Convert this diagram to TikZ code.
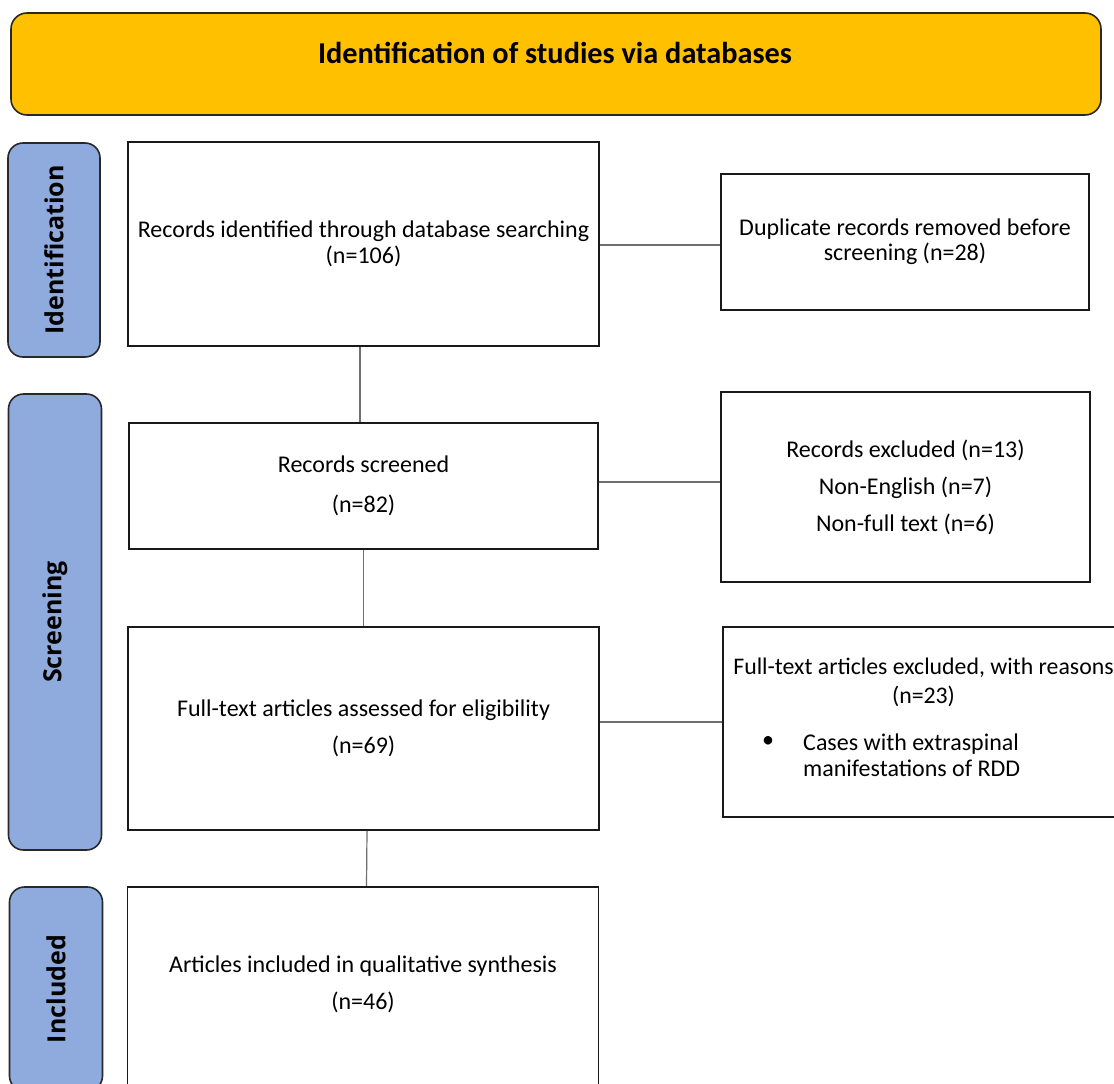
\documentclass[tikz,border=0pt]{standalone}
\usepackage{fontspec}
\setmainfont{Carlito}
\newfontfamily\tabfont{Open Sans}
\definecolor{bannergold}{RGB}{255,192,0}
\definecolor{tabblue}{RGB}{143,170,220}
\definecolor{edgedark}{RGB}{40,40,40}
\definecolor{conngray}{RGB}{110,110,110}
\tikzset{
  banner/.style={draw=edgedark, line width=1.6pt, fill=bannergold, rounded corners=16pt, inner sep=0pt},
  tabbox/.style={draw=edgedark, line width=1.6pt, fill=tabblue, rounded corners=15pt, inner sep=0pt, rotate=90,
    font=\tabfont\bfseries\fontsize{25}{28}\selectfont},
  stagebox/.style={draw=black!90, line width=1.8pt, fill=white, rectangle, inner sep=0pt, align=center},
  bodytext/.style={font=\fontsize{24}{26}\selectfont},
  plain/.style={inner sep=0pt, align=center, font=\fontsize{24}{26}\selectfont},
  conn/.style={draw=conngray, line width=1.2pt}
}
\begin{document}
\begin{tikzpicture}[x=1pt,y=-1pt]
\clip (0,0) rectangle (1114,1084);
\fill[white] (0,0) rectangle (1114,1084);

% banner
\node[banner, minimum width=1090pt, minimum height=102pt] (banner) at (556,64) {};
\node[inner sep=0pt, anchor=base, font=\bfseries\fontsize{30.3}{32}\selectfont] (title) at (555,63) {Identification of studies via databases};

% side tabs
\node[tabbox, minimum width=214pt, minimum height=92pt] (tabI) at (54,250) {Identification};
\node[tabbox, minimum width=456pt, minimum height=93pt] (tabS) at (55,622) {Screening};
\node[tabbox, minimum width=204pt, minimum height=93pt] (tabN) at (56,989) {Included};

% main column
\node[stagebox, bodytext, minimum width=471pt, minimum height=204pt] (b1) at (363.5,244)
  {Records identified through database searching\\(n=106)};
\node[stagebox, minimum width=469pt, minimum height=126pt, font=\fontsize{24}{40}\selectfont] (b2) at (363.5,486)
  {Records screened\\(n=82)};
\node[stagebox, minimum width=471pt, minimum height=203pt, font=\fontsize{24}{37}\selectfont] (b3) at (363.5,728.5)
  {Full-text articles assessed for eligibility\\(n=69)};
\node[stagebox, minimum width=471pt, minimum height=205pt] (b4) at (363,989.5) {};
\node[plain, font=\fontsize{24}{37}\selectfont] (b4t) at (363,984.5)
  {Articles included in qualitative synthesis\\(n=46)};

% side column
\node[stagebox, font=\fontsize{24}{25}\selectfont, minimum width=368pt, minimum height=136pt] (dup) at (905,242)
  {Duplicate records removed before\\screening (n=28)};
\node[stagebox, font=\fontsize{24}{37}\selectfont, minimum width=369pt, minimum height=190pt] (rex) at (905.5,487)
  {Records excluded (n=13)\\Non-English (n=7)\\Non-full text (n=6)};
\node[stagebox, minimum width=407pt, minimum height=190pt] (fex) at (926.5,722) {};
\node[plain, font=\fontsize{23.8}{29}\selectfont] (fexhead) at (923.5,682.5)
  {Full-text articles excluded, with reasons\\(n=23)};
\node[plain] (fexbul) at (768,742) {•};
\node[plain, anchor=west, align=left] (fexitem) at (803,755)
  {Cases with extraspinal\\manifestations of RDD};

% connectors
\draw[conn] ([xshift=-3.5pt]b1.south) -- ([xshift=-3.5pt]b2.north);
\draw[conn] (b2.south) -- (b3.north);
\draw[conn] ([xshift=3.5pt]b3.south) -- ([xshift=3.5pt]b4.north);
\draw[conn] ([yshift=-1pt]b1.east) -- ([yshift=-1pt]b1.east -| dup.west);
\draw[conn] ([yshift=4pt]b2.east) -- ([yshift=4pt]b2.east -| rex.west);
\draw[conn] ([yshift=6.5pt]b3.east) -- ([yshift=6.5pt]b3.east -| fex.west);
\end{tikzpicture}
\end{document}
